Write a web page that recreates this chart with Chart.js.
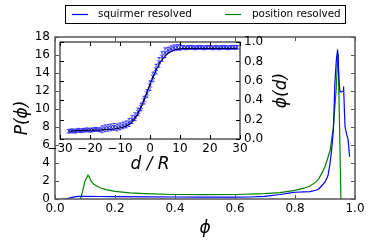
<!DOCTYPE html>
<html>
<head>
<meta charset="utf-8">
<script src="https://cdn.jsdelivr.net/npm/chart.js@4"></script>
<style>
  html, body { margin: 0; padding: 0; background: #fff; }
  #wrap { position: relative; width: 374px; height: 249px; }
  #wrap canvas { position: absolute; left: 0; top: 0; }
</style>
</head>
<body>
<div id="wrap">
  <canvas id="mainChart" width="374" height="249"></canvas>
  <canvas id="insetChart" width="374" height="249"></canvas>
</div>
<script>
// main panel: P(phi)
const squirmerPhi = [0.02, 0.03, 0.04, 0.05, 0.06, 0.07, 0.08, 0.1, 0.15, 0.2, 0.3, 0.4, 0.5, 0.6, 0.65, 0.7, 0.75, 0.78, 0.8, 0.83, 0.85, 0.872, 0.88, 0.89, 0.9, 0.91, 0.917, 0.923, 0.928, 0.933, 0.938, 0.942, 0.947, 0.95, 0.955, 0.96, 0.962, 0.965, 0.967, 0.972, 0.977, 0.982];
const squirmerP   = [0, 0, 0.05, 0.12, 0.2, 0.27, 0.3, 0.3, 0.28, 0.27, 0.24, 0.22, 0.2, 0.2, 0.22, 0.3, 0.5, 0.65, 0.75, 0.8, 0.82, 1.0, 1.15, 1.5, 1.9, 2.6, 4.0, 5.8, 7.7, 12.9, 15.5, 16.6, 13.0, 11.9, 11.9, 12.0, 12.5, 9.5, 8.0, 7.2, 6.6, 4.7];
const positionPhi = [0.085, 0.09, 0.1, 0.11, 0.115, 0.12, 0.13, 0.15, 0.17, 0.2, 0.25, 0.3, 0.4, 0.5, 0.6, 0.7, 0.75, 0.8, 0.83, 0.85, 0.87, 0.88, 0.89, 0.9, 0.906, 0.917, 0.928, 0.937, 0.941, 0.944, 0.948, 0.953];
const positionP   = [0, 0.6, 2.0, 2.65, 2.4, 2.0, 1.6, 1.25, 1.05, 0.85, 0.68, 0.6, 0.5, 0.48, 0.5, 0.6, 0.7, 0.95, 1.2, 1.45, 1.9, 2.3, 2.9, 3.6, 4.2, 5.4, 8.0, 12.1, 14.8, 16.2, 9.0, 0];
const phiTicks = [0, 0.2, 0.4, 0.6, 0.8, 1.0];
const pTicks = [0, 2, 4, 6, 8, 10, 12, 14, 16, 18];

// inset: phi(d)
const dValues = [-27, -26, -25, -24, -23, -22, -21, -20, -19, -18, -17, -16, -15, -14, -13, -12, -11, -10, -9, -8, -7, -6, -5, -4, -3, -2, -1, 0, 1, 2, 3, 4, 5, 6, 7, 8, 9, 10, 11, 12, 13, 14, 15, 16, 17, 18, 19, 20, 21, 22, 23, 24, 25, 26, 27, 28, 29];
const fitCurve = [0.080, 0.082, 0.084, 0.086, 0.087, 0.088, 0.089, 0.090, 0.091, 0.092, 0.093, 0.094, 0.096, 0.098, 0.100, 0.103, 0.107, 0.113, 0.121, 0.133, 0.150, 0.176, 0.212, 0.262, 0.326, 0.401, 0.482, 0.563, 0.640, 0.709, 0.768, 0.817, 0.855, 0.883, 0.903, 0.916, 0.924, 0.929, 0.932, 0.934, 0.935, 0.935, 0.935, 0.935, 0.935, 0.935, 0.935, 0.935, 0.935, 0.935, 0.935, 0.935, 0.935, 0.935, 0.935, 0.935, 0.935];
const measured = [0.080, 0.085, 0.080, 0.090, 0.085, 0.090, 0.095, 0.090, 0.095, 0.100, 0.095, 0.100, 0.110, 0.115, 0.120, 0.125, 0.120, 0.130, 0.140, 0.150, 0.170, 0.200, 0.230, 0.280, 0.330, 0.400, 0.470, 0.550, 0.640, 0.720, 0.790, 0.850, 0.890, 0.915, 0.930, 0.940, 0.945, 0.945, 0.945, 0.940, 0.945, 0.945, 0.940, 0.945, 0.945, 0.940, 0.945, 0.945, 0.940, 0.945, 0.940, 0.945, 0.945, 0.940, 0.945, 0.945, 0.945];
const measuredErr = [0.02, 0.02, 0.02, 0.02, 0.02, 0.02, 0.02, 0.02, 0.02, 0.02, 0.02, 0.035, 0.035, 0.035, 0.035, 0.035, 0.035, 0.035, 0.035, 0.035, 0.04, 0.04, 0.04, 0.04, 0.04, 0.04, 0.04, 0.05, 0.05, 0.05, 0.05, 0.05, 0.05, 0.03, 0.03, 0.03, 0.03, 0.03, 0.02, 0.02, 0.02, 0.02, 0.02, 0.02, 0.02, 0.02, 0.02, 0.02, 0.02, 0.02, 0.02, 0.02, 0.02, 0.02, 0.02, 0.02, 0.02];
const dTicks = [-30, -20, -10, 0, 10, 20, 30];
const phiDTicks = [0, 0.2, 0.4, 0.6, 0.8, 1.0];

const FONT = 'DejaVu Sans';
const minus = v => String(v).replace('-', '\u2212');

function pts(xs, ys) {
    return xs.map((x, i) => ({ x: x, y: ys[i] }));
}

// matplotlib-ish frame with inward ticks on all four sides
function framePlugin(color, width) {
    return {
        id: 'frame',
        afterDatasetsDraw(chart) {
            const { ctx, chartArea: a, scales } = chart;
            const xs = scales.x, ys = scales.y;
            ctx.save();
            ctx.strokeStyle = color;
            ctx.lineWidth = 1;
            ctx.beginPath();
            xs.ticks.forEach(t => {
                const px = Math.round(xs.getPixelForValue(t.value)) + 0.5;
                ctx.moveTo(px, a.top); ctx.lineTo(px, a.top + 4);
                ctx.moveTo(px, a.bottom); ctx.lineTo(px, a.bottom - 4);
            });
            ys.ticks.forEach(t => {
                const py = Math.round(ys.getPixelForValue(t.value)) + 0.5;
                ctx.moveTo(a.left, py); ctx.lineTo(a.left + 4, py);
                ctx.moveTo(a.right, py); ctx.lineTo(a.right - 4, py);
            });
            ctx.stroke();
            ctx.lineWidth = width;
            ctx.strokeRect(a.left, a.top, a.right - a.left, a.bottom - a.top);
            ctx.restore();
        }
    };
}

const legendBox = {
    id: 'legendBox',
    afterDraw(chart) {
        const ctx = chart.ctx;
        ctx.save();
        ctx.fillStyle = '#fff';
        ctx.fillRect(65, 5, 280, 18);
        ctx.strokeStyle = '#000';
        ctx.lineWidth = 1;
        ctx.strokeRect(65.5, 5.5, 280, 18);
        const items = [[72, 98], [225, 252]];
        chart.data.datasets.forEach((ds, i) => {
            const [lx, tx] = items[i];
            ctx.strokeStyle = ds.borderColor;
            ctx.lineWidth = 1.2;
            ctx.beginPath();
            ctx.moveTo(lx, 14.5); ctx.lineTo(lx + 16, 14.5);
            ctx.stroke();
            ctx.fillStyle = '#000';
            ctx.font = 'normal 10.4px DejaVu Sans';
            ctx.textAlign = 'left';
            ctx.textBaseline = 'middle';
            ctx.fillText(ds.label, tx, 14.5);
        });
        ctx.restore();
    }
};

new Chart(document.getElementById('mainChart'), {
    type: 'line',
    data: {
        datasets: [
            { label: 'squirmer resolved', data: pts(squirmerPhi, squirmerP), borderColor: '#0000ff', borderWidth: 1.2 },
            { label: 'position resolved', data: pts(positionPhi, positionP), borderColor: '#008000', borderWidth: 1.2 }
        ]
    },
    options: {
        responsive: false,
        animation: false,
        layout: { padding: { left: 0, right: 19, top: 37, bottom: 0 } },
        elements: { point: { radius: 0 }, line: { tension: 0 } },
        plugins: { legend: { display: false }, tooltip: { enabled: false } },
        scales: {
            x: {
                type: 'linear', min: 0, max: 1,
                afterBuildTicks: s => { s.ticks = phiTicks.map(v => ({ value: v })); },
                afterFit: s => { s.height = 50; },
                grid: { display: false, drawTicks: false },
                border: { display: false },
                ticks: { color: '#000', padding: 3, maxRotation: 0, minRotation: 0, autoSkip: false, font: { family: FONT, size: 12 }, callback: v => v.toFixed(1) },
                title: { display: true, text: '\u03d5', color: '#000', padding: { top: 0, bottom: 10 }, font: { family: FONT, size: 17, style: 'italic' } }
            },
            y: {
                min: 0, max: 18,
                afterBuildTicks: s => { s.ticks = pTicks.map(v => ({ value: v })); },
                afterFit: s => { s.width = 55; },
                grid: { display: false, drawTicks: false },
                border: { display: false },
                ticks: { color: '#000', padding: 5, autoSkip: false, font: { family: FONT, size: 12 } },
                title: { display: true, text: 'P(\u03d5)', color: '#000', padding: { top: 12, bottom: 0 }, font: { family: FONT, size: 17, style: 'italic' } }
            }
        }
    },
    plugins: [framePlugin('#555', 1.5), legendBox]
});

const insetBack = {
    id: 'insetBack',
    beforeDatasetsDraw(chart) {
        const { ctx, chartArea: a } = chart;
        ctx.save();
        ctx.fillStyle = '#fff';
        ctx.fillRect(a.left, a.top, a.right - a.left, a.bottom - a.top);
        ctx.restore();
    }
};

const errorBars = {
    id: 'errorBars',
    afterDatasetsDraw(chart) {
        const { ctx, scales } = chart;
        const meta = chart.getDatasetMeta(1);
        ctx.save();
        ctx.strokeStyle = 'rgba(0,0,255,0.75)';
        ctx.lineWidth = 1;
        ctx.beginPath();
        meta.data.forEach((pt, i) => {
            const y0 = scales.y.getPixelForValue(measured[i] - measuredErr[i]);
            const y1 = scales.y.getPixelForValue(measured[i] + measuredErr[i]);
            ctx.moveTo(pt.x, y0); ctx.lineTo(pt.x, y1);
            ctx.moveTo(pt.x - 1.5, y0); ctx.lineTo(pt.x + 1.5, y0);
            ctx.moveTo(pt.x - 1.5, y1); ctx.lineTo(pt.x + 1.5, y1);
        });
        ctx.stroke();
        ctx.restore();
    }
};

const insetTitle = {
    id: 'insetTitle',
    afterDraw(chart) {
        const { ctx, chartArea: a } = chart;
        ctx.save();
        ctx.translate(282, (a.top + a.bottom) / 2);
        ctx.rotate(-Math.PI / 2);
        ctx.fillStyle = '#000';
        ctx.font = 'italic 17px DejaVu Sans';
        ctx.textAlign = 'center';
        ctx.textBaseline = 'middle';
        ctx.fillText('\u03d5(d)', 0, 0);
        ctx.restore();
    }
};

new Chart(document.getElementById('insetChart'), {
    type: 'scatter',
    data: {
        datasets: [
            { data: pts(dValues, fitCurve), showLine: true, borderColor: '#000', borderWidth: 1.2, pointRadius: 0 },
            { data: pts(dValues, measured), pointStyle: 'crossRot', pointRadius: 3, borderColor: 'rgba(0,0,255,0.75)', backgroundColor: 'rgba(0,0,255,0.75)', borderWidth: 1 }
        ]
    },
    options: {
        responsive: false,
        animation: false,
        layout: { padding: { left: 60, right: 74, top: 42, bottom: 69 } },
        plugins: { legend: { display: false }, tooltip: { enabled: false } },
        scales: {
            x: {
                type: 'linear', min: -30, max: 30,
                afterBuildTicks: s => { s.ticks = dTicks.map(v => ({ value: v })); },
                afterFit: s => { s.height = 41; },
                grid: { display: false, drawTicks: false },
                border: { display: false },
                ticks: { color: '#000', padding: 3, maxRotation: 0, minRotation: 0, autoSkip: false, font: { family: FONT, size: 12 }, callback: v => minus(v) },
                title: { display: true, text: 'd / R', color: '#000', padding: { top: 0, bottom: 5 }, font: { family: FONT, size: 17, style: 'italic' } }
            },
            y: {
                position: 'right', min: 0, max: 1,
                afterBuildTicks: s => { s.ticks = phiDTicks.map(v => ({ value: v })); },
                afterFit: s => { s.width = 60; },
                grid: { display: false, drawTicks: false },
                border: { display: false },
                ticks: { color: '#000', padding: 4, autoSkip: false, font: { family: FONT, size: 12 }, callback: v => v.toFixed(1) }
            }
        }
    },
    plugins: [insetBack, errorBars, framePlugin('#000', 1), insetTitle]
});
</script>
</body>
</html>
